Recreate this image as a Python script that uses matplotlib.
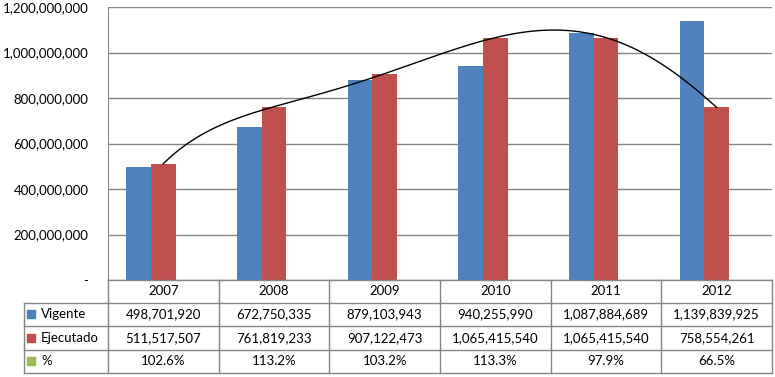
import numpy as np
import matplotlib.pyplot as plt
import matplotlib.transforms as mtransforms

plt.rcParams['font.family'] = ['Lato', 'DejaVu Sans']

# Datos
anios = ['2007', '2008', '2009', '2010', '2011', '2012']
vigente = [498701920, 672750335, 879103943, 940255990, 1087884689, 1139839925]
ejecutado = [511517507, 761819233, 907122473, 1065415540, 1065415540, 758554261]
porcentaje = [102.6, 113.2, 103.2, 113.3, 97.9, 66.5]

azul = '#4F81BD'
rojo = '#C0504D'
verde = '#9BBB59'
gris = '#868686'

fig = plt.figure(figsize=(7.75, 3.77), dpi=100)
ax = fig.add_axes([108 / 775, 1 - 280 / 377, 664 / 775, 273 / 377])

x = np.arange(len(anios))
w = 1 / 4.5
ax.bar(x - w, vigente, w, color=azul, zorder=2)
ax.bar(x, ejecutado, w, color=rojo, zorder=2)
ax.bar(x + w, [p / 100 for p in porcentaje], w, color=verde, zorder=2)

# linea de tendencia (polinomica) sobre Ejecutado
xs = np.linspace(0, len(anios) - 1, 300)
coef = np.polyfit(x, ejecutado, 5)
ax.plot(xs, np.polyval(coef, xs), color='black', lw=1, zorder=3)

ax.set_xlim(-0.5, len(anios) - 0.5)
ax.set_ylim(0, 1.2e9)
ax.set_yticks(np.arange(0, 1.2e9 + 1, 2e8))
ax.set_yticklabels(['-' if v == 0 else f'{v:,.0f}' for v in ax.get_yticks()], fontsize=9.5)
ax.tick_params(axis='y', length=0, pad=14)
ax.set_xticks([])
ax.grid(axis='y', color=gris, lw=1, zorder=0)
for s in ['top', 'right', 'bottom']:
    ax.spines[s].set_visible(False)
ax.spines['left'].set_color(gris)

# tabla de datos
tr = mtransforms.blended_transform_factory(ax.transData, ax.transAxes)
h = 1 / 273
filas = [
    ('Vigente', azul, [f'{v:,.0f}' for v in vigente]),
    ('Ejecutado', rojo, [f'{v:,.0f}' for v in ejecutado]),
    ('%', verde, [f'{p:.1f}%' for p in porcentaje]),
]
y_filas = [0, -22.5, -46, -69.5, -93]
x_lab = -0.5 - 84 / 664 * 6

# lineas horizontales
ax.plot([-0.5, 5.5], [y_filas[0] * h] * 2, color=gris, lw=1, transform=tr, clip_on=False)
for yy in y_filas[1:]:
    ax.plot([x_lab, 5.5], [yy * h] * 2, color=gris, lw=1, transform=tr, clip_on=False)
# lineas verticales
for b in np.arange(-0.5, 6, 1):
    ax.plot([b, b], [y_filas[0] * h, y_filas[-1] * h], color=gris, lw=1, transform=tr, clip_on=False)
ax.plot([x_lab, x_lab], [y_filas[1] * h, y_filas[-1] * h], color=gris, lw=1, transform=tr, clip_on=False)

for i, a in enumerate(anios):
    ax.text(i, (y_filas[0] + y_filas[1]) / 2 * h, a, ha='center', va='center',
            fontsize=9.5, transform=tr)
for r, (nombre, color, valores) in enumerate(filas):
    yc = (y_filas[r + 1] + y_filas[r + 2]) / 2 * h
    ax.text(x_lab + 17 / 664 * 6, yc, nombre, ha='left', va='center', fontsize=9.5, transform=tr)
    ax.scatter([x_lab + 7 / 664 * 6], [yc], marker='s', s=30, color=color, transform=tr, clip_on=False)
    for i, v in enumerate(valores):
        ax.text(i, yc, v, ha='center', va='center', fontsize=9.5, transform=tr)

fig.savefig('out.png', dpi=100)
